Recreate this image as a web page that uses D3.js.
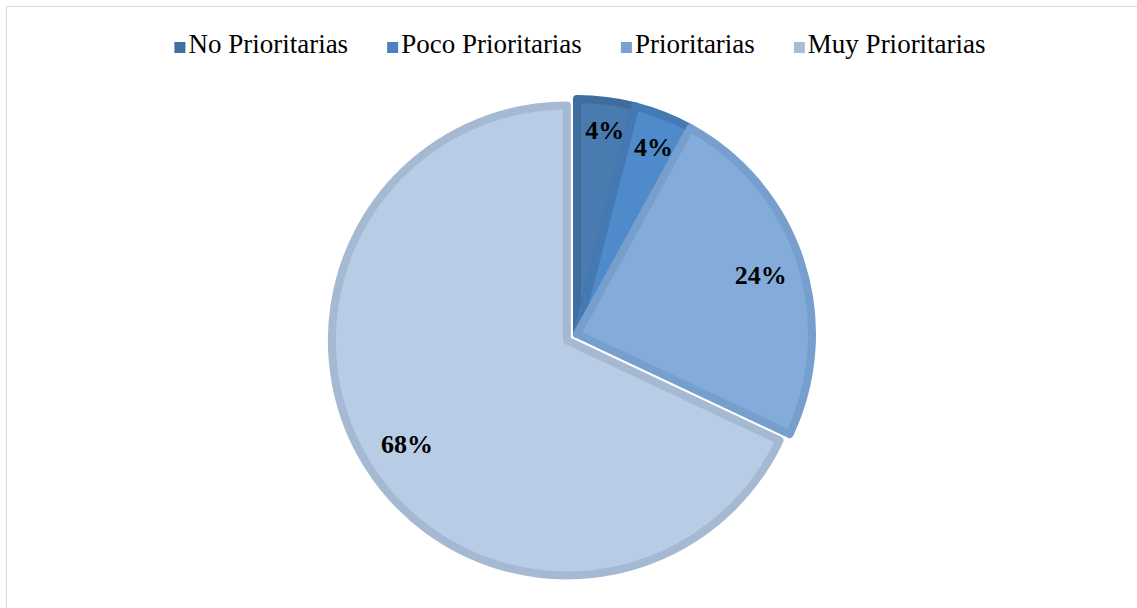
<!DOCTYPE html>
<html>
<head>
<meta charset="utf-8">
<script src="https://cdn.jsdelivr.net/npm/d3@7"></script>
<style>
  html, body { margin: 0; padding: 0; background: #ffffff; }
  svg { display: block; }
</style>
</head>
<body>
<svg id="chart" width="1137" height="608"></svg>
<script>
// Survey result: priority level of the items, in percent
const categories = ["No Prioritarias", "Poco Prioritarias", "Prioritarias", "Muy Prioritarias"];
const values = [4, 4, 24, 68];
const labels = ["4%", "4%", "24%", "68%"];
// Slices pulled out of the pie (pixels along the slice bisector)
const explode = [0, 0, 0, 12];

const fills   = ["#4a7bb0", "#4f8bca", "#84acdb", "#b9cce5"];
const strokes = ["#3f6d9d", "#4579b3", "#779fcd", "#a6b9d2"];
const swatch  = ["#41709e", "#4a81bf", "#7a9fd0", "#a8bcd9"];

const W = 1137, H = 608;
const cx = 577, cy = 334, R = 235, strokeW = 8;
const svg = d3.select("#chart");

// chart area border
svg.append("rect")
  .attr("x", 6.5).attr("y", 6.5)
  .attr("width", W + 10).attr("height", H + 10)
  .attr("fill", "#ffffff")
  .attr("stroke", "#d9d9d9").attr("stroke-width", 1);

const pie = d3.pie().sort(null).value(d => d)(values);
const arc = d3.arc().innerRadius(0).outerRadius(R);

const g = svg.append("g").attr("transform", `translate(${cx},${cy})`);

const slices = g.selectAll("g.slice")
  .data(pie)
  .join("g")
  .attr("class", "slice")
  .attr("transform", (d, i) => {
    const a = (d.startAngle + d.endAngle) / 2;
    return `translate(${Math.sin(a) * explode[i]},${-Math.cos(a) * explode[i]})`;
  });

slices.append("path")
  .attr("d", arc)
  .attr("fill", (d, i) => fills[i])
  .attr("stroke", (d, i) => strokes[i])
  .attr("stroke-width", strokeW)
  .attr("stroke-linejoin", "round");

// data labels placed at the inside end of each slice
const fontSize = 26;
const limit = R - 16;
const lbl = slices.append("text")
  .attr("font-family", "'Liberation Serif', 'Times New Roman', serif")
  .attr("font-weight", "bold")
  .attr("font-size", fontSize)
  .attr("fill", "#000000")
  .attr("text-anchor", "middle")
  .attr("dominant-baseline", "central")
  .text((d, i) => labels[i]);

lbl.each(function (d) {
  const w = this.getComputedTextLength();
  const h = fontSize * 0.76;
  const a = (d.startAngle + d.endAngle) / 2;
  const s = Math.abs(Math.sin(a)), c = Math.abs(Math.cos(a));
  let lo = 0, hi = R;
  for (let k = 0; k < 40; k++) {
    const m = (lo + hi) / 2;
    const dist = Math.hypot(m * s + w / 2, m * c + h / 2);
    if (dist <= limit) lo = m; else hi = m;
  }
  d3.select(this)
    .attr("x", Math.sin(a) * lo + 2)
    .attr("y", -Math.cos(a) * lo + 1);
});

// legend
const legend = svg.append("g");
const legendFont = 27, sw = 11, gapSwatch = 3, gapItem = 39;
let x = 0;
categories.forEach((name, i) => {
  const item = legend.append("g").attr("transform", `translate(${x},0)`);
  item.append("rect")
    .attr("x", 0).attr("y", -sw).attr("width", sw).attr("height", sw)
    .attr("fill", swatch[i]);
  const t = item.append("text")
    .attr("x", sw + gapSwatch).attr("y", 0)
    .attr("font-family", "'Liberation Serif', 'Times New Roman', serif")
    .attr("font-size", legendFont)
    .attr("fill", "#000000")
    .text(name);
  x += sw + gapSwatch + t.node().getComputedTextLength() + gapItem;
});
const legendW = x - gapItem;
legend.attr("transform", `translate(${580 - legendW / 2},53)`);
</script>
</body>
</html>
